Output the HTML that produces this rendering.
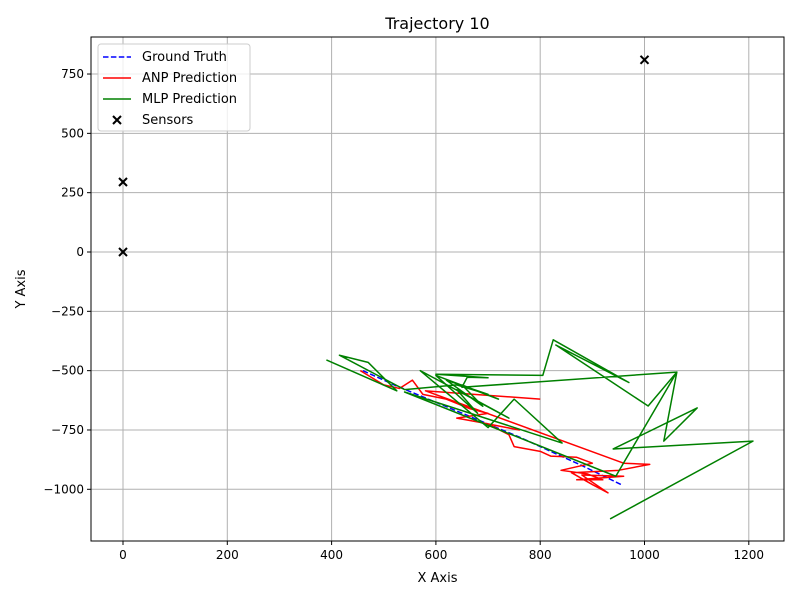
<!DOCTYPE html>
<html><head><meta charset="utf-8"><style>
body{margin:0;background:#fff;font-family:"Liberation Sans","DejaVu Sans",sans-serif}
svg text{font-family:"DejaVu Sans","Liberation Sans",sans-serif}
</style></head><body>
<svg id="c" width="800" height="600"></svg>
<script>
const gtX=[460,520,580,640,700,760,820,880,955];
const gtY=[-500,-560,-615,-670,-725,-780,-840,-900,-980];
const anpX=[455,500,530,555,575,620,665,700,640,690,760,700,740,750,800,820,870,900,840,890,920,870,960,880,930,900,860,950,1010,960,580,800];
const anpY=[-500,-560,-575,-540,-600,-620,-660,-680,-700,-720,-750,-725,-770,-820,-840,-860,-865,-890,-920,-935,-960,-960,-945,-940,-1015,-980,-930,-920,-895,-890,-585,-620];
const mlpX=[390,525,470,415,540,640,700,620,690,650,720,600,680,640,740,570,700,750,842,540,945,1062,1007,830,970,825,805,600,700,660,650,1062,1037,1101,940,1208,934];
const mlpY=[-455,-585,-465,-435,-580,-560,-600,-540,-650,-560,-620,-520,-680,-580,-700,-500,-740,-620,-805,-590,-945,-506,-649,-392,-550,-370,-520,-515,-530,-528,-570,-506,-797,-657,-830,-797,-1125];
const sensX=[0,0,1000];
const sensY=[0,295,810];
const xTicks=[0,200,400,600,800,1000,1200];
const yTicks=[-1000,-750,-500,-250,0,250,500,750];

const NS="http://www.w3.org/2000/svg";
const svg=document.getElementById('c');
const L=91,R=784,T=37,B=541;
const sx=v=>123+v*0.5215;
const sy=v=>252-v*0.2373;
function mk(t,a,p){const e=document.createElementNS(NS,t);for(const k in a)e.setAttribute(k,a[k]);(p||svg).appendChild(e);return e;}
const grid=mk('g',{});


xTicks.forEach(v=>{const x=sx(v);
 mk('line',{x1:x,x2:x,y1:T,y2:B,stroke:'#b0b0b0','stroke-width':1},grid);
 mk('line',{x1:x,x2:x,y1:B,y2:B+4,stroke:'#000'});
 const t=mk('text',{x:x,y:B+18,'text-anchor':'middle','font-size':12});t.textContent=v;
 
 
});
yTicks.forEach(v=>{const y=sy(v);
 mk('line',{x1:L,x2:R,y1:y,y2:y,stroke:'#b0b0b0','stroke-width':1},grid);
 mk('line',{x1:L-4,x2:L,y1:y,y2:y,stroke:'#000'});
 const t=mk('text',{x:L-7,y:y+4,'text-anchor':'end','font-size':12});t.textContent=(v<0?'\u2212'+(-v):v);
 
 
});
function line(xs,ys,col,name,dash){
 const p=mk('polyline',{points:xs.map((x,i)=>sx(x)+','+sy(ys[i])).join(' '),fill:'none',stroke:col,'stroke-width':1.5,'stroke-linejoin':'round'});
 if(dash)p.setAttribute('stroke-dasharray',dash);
 
 
}
line(gtX,gtY,'#0000ff','ground-truth-line','5.5,2.4');
line(anpX,anpY,'#ff0000','anp-prediction-line');
line(mlpX,mlpY,'#008000','mlp-prediction-line');
sensX.forEach((x,i)=>{const cx=sx(x),cy=sy(sensY[i]);
 const g=mk('g',{stroke:'#000','stroke-width':2});
 
 
 mk('line',{x1:cx-4,y1:cy-4,x2:cx+4,y2:cy+4},g);mk('line',{x1:cx-4,y1:cy+4,x2:cx+4,y2:cy-4},g);
});
const fr=mk('rect',{x:L,y:T,width:R-L,height:B-T,fill:'none',stroke:'#000','stroke-width':1});


const ti=mk('text',{x:(L+R)/2,y:29,'text-anchor':'middle','font-size':16});ti.textContent='Trajectory 10';


const xl=mk('text',{x:(L+R)/2,y:582,'text-anchor':'middle','font-size':13});xl.textContent='X Axis';


const yl=mk('text',{x:0,y:0,'text-anchor':'middle','font-size':13,transform:'translate(25,289) rotate(-90)'});yl.textContent='Y Axis';


const lg=mk('g',{});


mk('rect',{x:98,y:44,width:152,height:87,rx:3,fill:'#fff','fill-opacity':0.8,stroke:'#ccc'},lg);
const items=[['Ground Truth','#0000ff','5.5,2.4'],['ANP Prediction','#ff0000',''],['MLP Prediction','#008000',''],['Sensors','#000','x']];
items.forEach((it,i)=>{const y=57+i*21;
 if(it[2]==='x'){mk('line',{x1:113,y1:y-4,x2:121,y2:y+4,stroke:'#000','stroke-width':2},lg);mk('line',{x1:113,y1:y+4,x2:121,y2:y-4,stroke:'#000','stroke-width':2},lg);}
 else{const l=mk('line',{x1:103,x2:131,y1:y,y2:y,stroke:it[1],'stroke-width':1.5},lg);if(it[2])l.setAttribute('stroke-dasharray',it[2]);}
 const t=mk('text',{x:142,y:y+4,'font-size':13},lg);t.textContent=it[0];
 
 
});
</script>
</body></html>
